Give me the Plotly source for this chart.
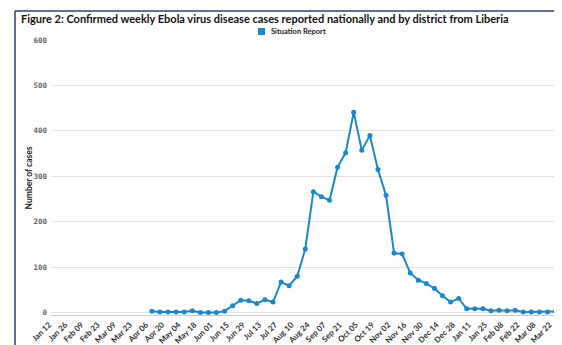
import pandas as pd
import plotly.graph_objects as go

# weekly periods (week starting), Jan 12 2014 .. Mar 22 2015
weeks = [d.strftime("%Y-%m-%d") for d in pd.date_range("2014-01-12", "2015-03-22", freq="7D")]

# Confirmed weekly cases (Situation Report); None = no data reported
cases = [None] * 12 + [
    3, 1, 1, 1, 1, 4, 0, 0, 0, 3,
    15, 27, 26, 20, 28, 23, 67, 59, 80, 140,
    266, 255, 247, 320, 352, 441, 357, 390, 315, 258,
    131, 129, 87, 71, 64, 53, 37, 23, 31, 8,
    8, 8, 4, 5, 4, 5, 1, 1, 1, 1, 2,
]

tick_labels = ["Jan 12", "Jan 26", "Feb 09", "Feb 23", "Mar 09", "Mar 23", "Apr 06",
               "Apr 20", "May 04", "May 18", "Jun 01", "Jun 15", "Jun 29", "Jul 13",
               "Jul 27", "Aug 10", "Aug 24", "Sep 07", "Sep 21", "Oct 05", "Oct 19",
               "Nov 02", "Nov 16", "Nov 30", "Dec 14", "Dec 28", "Jan 11", "Jan 25",
               "Feb 08", "Feb 22", "Mar 08", "Mar 22"]
tick_vals = weeks[::2]

series_name = "Situation Report"
title = "Figure 2: Confirmed weekly Ebola virus disease cases reported nationally and by district from Liberia"
y_title = "Number of cases"
y_ticks = [0, 100, 200, 300, 400, 500, 600]

# page body has an 8px default margin: figure sits at (8, 8) in the window
O = 8
W, H = 562 - O, 345 - O
PL, PR, PT, PB = 51, 562, 40, 315          # plot area in window pixels
L, R, T, B = PL - O, 0, PT - O, 345 - PB
pw, ph = W - L - R, H - T - B

def px(p):  # window pixel x -> paper
    return (p - O - L) / pw

def py(q):  # window pixel y -> paper
    return (H - B - (q - O)) / ph

blue = "#1b87cc"
fig = go.Figure()
fig.add_trace(go.Scatter(
    x=weeks, y=cases, mode="lines+markers", name=series_name,
    line=dict(color=blue, width=2), marker=dict(color=blue, size=5),
    connectgaps=False, showlegend=False,
))

fig.update_layout(
    width=W, height=H,
    margin=dict(l=L, r=R, t=T, b=B, autoexpand=False),
    paper_bgcolor="white", plot_bgcolor="white",
    showlegend=False,
    xaxis=dict(
        type="category", range=[-0.5, 62.8],
        tickmode="array", tickvals=tick_vals, ticktext=tick_labels,
        tickangle=-45, tickfont=dict(family="Lato", size=8, color="#333333", weight="bold"),
        ticklabelshift=-6, ticklabelstandoff=1,
        showgrid=False, showline=True, linecolor="#cccccc", linewidth=1,
        ticks="", automargin=False, zeroline=False,
    ),
    yaxis=dict(
        range=[-5.5, 600], tickvals=y_ticks,
        tickfont=dict(family="DejaVu Sans Mono", size=7.5, color="#666666", weight="bold"),
        showgrid=True, gridcolor="#e3e3e3", gridwidth=1,
        zeroline=False, showline=False, ticks="", ticklabelstandoff=3,
        automargin=False,
    ),
    shapes=[
        dict(type="line", xref="paper", yref="paper", x0=px(15), x1=px(15), y0=py(11), y1=py(360),
             line=dict(color="#2f3f73", width=1.5)),
        dict(type="line", xref="paper", yref="paper", x0=px(15), x1=px(580), y0=py(11), y1=py(11),
             line=dict(color="#2f3f73", width=1.5)),
        dict(type="rect", xref="paper", yref="paper", x0=px(258), x1=px(265), y0=py(35), y1=py(28),
             fillcolor=blue, line=dict(width=0)),
    ],
    annotations=[
        dict(text=f"<b>{title}</b>", xref="paper", yref="paper", x=px(19), y=py(19),
             xanchor="left", yanchor="middle", showarrow=False,
             font=dict(family="Lato", size=11, color="#111111")),
        dict(text=f"<b>{series_name}</b>", xref="paper", yref="paper", x=px(269), y=py(31.5),
             xanchor="left", yanchor="middle", showarrow=False,
             font=dict(family="Lato", size=7.5, color="#222222")),
        dict(text=f"<b>{y_title}</b>", xref="paper", yref="paper", x=px(28.5), y=py(178),
             xanchor="center", yanchor="middle", showarrow=False, textangle=-90,
             font=dict(family="Lato", size=8.5, color="#222222")),
    ],
)

fig.write_html("out.html")
